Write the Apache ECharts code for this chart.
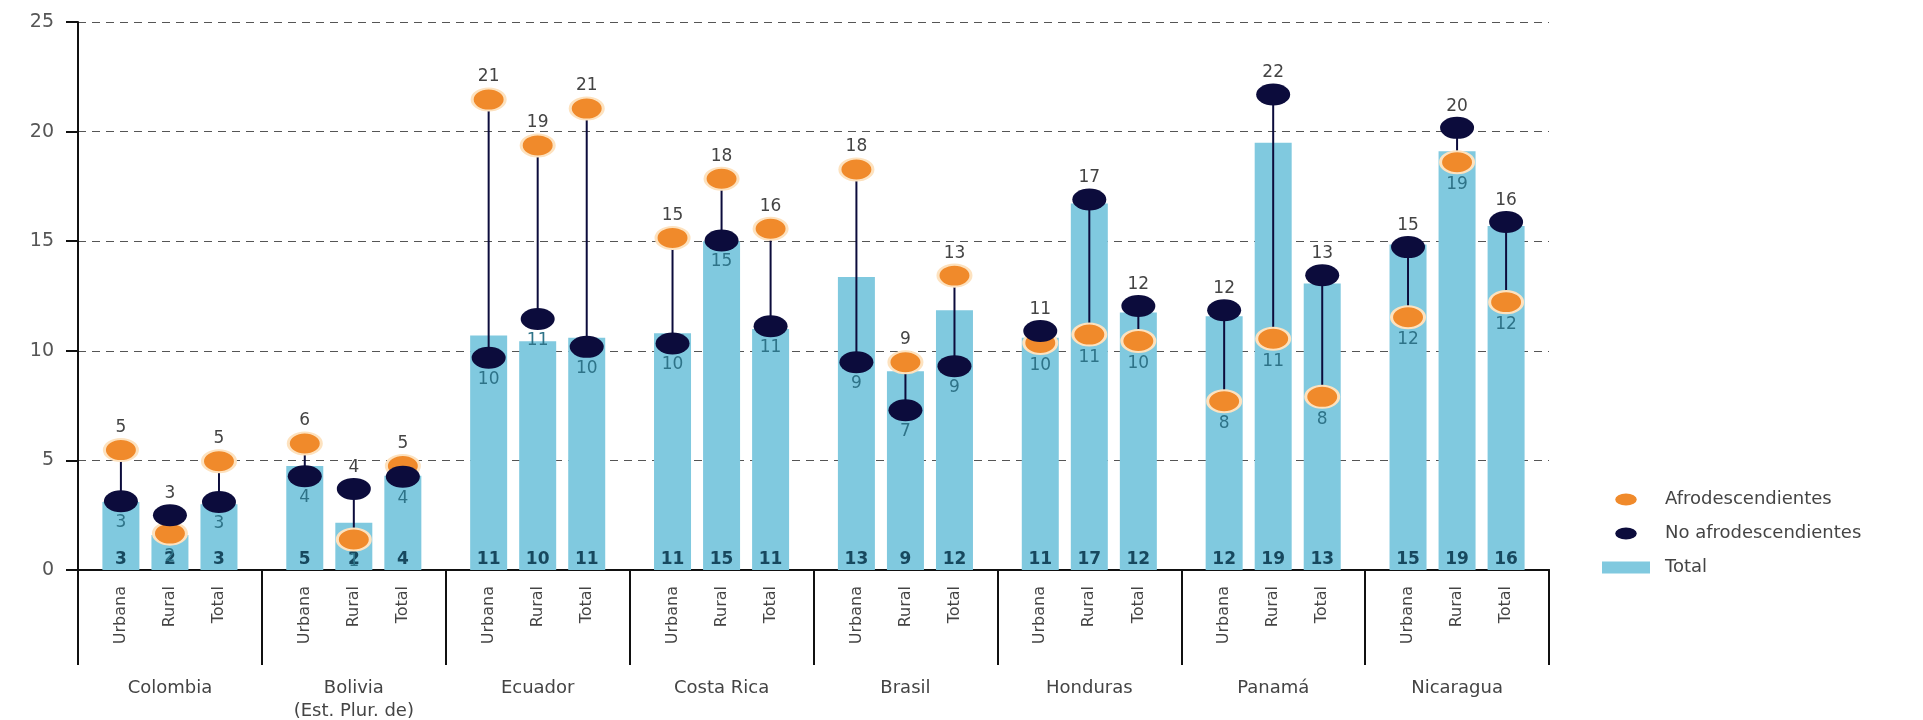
<!DOCTYPE html>
<html>
<head>
<meta charset="utf-8">
<script src="https://cdn.jsdelivr.net/npm/echarts@6/dist/echarts.min.js"></script>
<style>
html,body{margin:0;padding:0;background:#fff;}
#c{width:1923px;height:720px;}
</style>
</head>
<body>
<div id="c"></div>
<script>
// ---- data ----
const countries = ['Colombia', 'Bolivia\n(Est. Plur. de)', 'Ecuador', 'Costa Rica', 'Brasil', 'Honduras', 'Panamá', 'Nicaragua'];
const zones = ['Urbana', 'Rural', 'Total'];
// values per country, in the order Urbana, Rural, Total
const afro = [
  5.47, 1.66, 4.96,    // Colombia
  5.77, 1.39, 4.74,    // Bolivia
  21.46, 19.37, 21.05, // Ecuador
  15.15, 17.85, 15.57, // Costa Rica
  18.27, 9.48, 13.43,  // Brasil
  10.36, 10.74, 10.45, // Honduras
  7.7, 10.55, 7.9,     // Panamá
  11.53, 18.6, 12.22   // Nicaragua
];
const noAfro = [
  3.14, 2.5, 3.1,
  4.28, 3.7, 4.25,
  9.68, 11.45, 10.18,
  10.33, 15.03, 11.12,
  9.48, 7.29, 9.3,
  10.9, 16.9, 12.04,
  11.85, 21.69, 13.45,
  14.73, 20.17, 15.88
];
const total = [
  3.1, 1.6, 3.0,
  4.74, 2.15, 4.3,
  10.7, 10.44, 10.59,
  10.8, 15.0, 11.0,
  13.37, 9.07, 11.85,
  10.6, 16.72, 11.75,
  11.58, 19.49, 13.07,
  14.85, 19.1, 15.69
];
const yTicks = [0, 5, 10, 15, 20, 25];

// ---- layout helpers ----
const GROUP = 3.75, FIRST = 0.875;
function xPos(i) { const g = Math.floor(i / 3), j = i % 3; return FIRST + GROUP * g + j; }
const slotLabel = {};
total.forEach((v, i) => { slotLabel[Math.round(xPos(i) * 8)] = zones[i % 3]; });

const FONT = 'DejaVu Sans';
function dotLabel(val, other) {
  const top = val >= other;
  return {
    show: true,
    position: top ? 'top' : 'bottom',
    distance: 2,
    color: top ? '#444' : '#2e7388',
    fontSize: 17,
    fontFamily: FONT
  };
}
const ellipse = 'path://M0,5a9,5 0 1,0 18,0a9,5 0 1,0 -18,0';

const chart = echarts.init(document.getElementById('c'));
chart.setOption({
  animation: false,
  backgroundColor: '#fff',
  textStyle: { fontFamily: FONT },
  grid: { left: 78, right: 374, top: 22, bottom: 150, containLabel: false, outerBoundsMode: 'none' },
  legend: {
    orient: 'vertical',
    left: 1597,
    top: 484,
    itemWidth: 48,
    itemHeight: 12,
    itemGap: 13,
    textStyle: { fontSize: 18, color: '#444', fontFamily: FONT, lineHeight: 21, padding: [0, 0, 0, 10] },
    itemStyle: { borderWidth: 0 },
    data: [
      { name: 'Afrodescendientes', icon: ellipse },
      { name: 'No afrodescendientes', icon: ellipse },
      { name: 'Total', icon: 'rect' }
    ]
  },
  xAxis: [
    {
      type: 'value', min: 0, max: 30, interval: 0.125, position: 'bottom',
      axisLine: { show: true, onZero: false, lineStyle: { color: '#111', width: 2 } },
      axisTick: { show: false },
      splitLine: { show: false },
      axisLabel: {
        rotate: 90, margin: 16, fontSize: 16, color: '#444', fontFamily: FONT,
        formatter: v => slotLabel[Math.round(v * 8)] || ''
      }
    },
    {
      type: 'category', data: countries, position: 'bottom', boundaryGap: true,
      axisLine: { show: true, onZero: false, lineStyle: { color: '#111', width: 2 } },
      axisTick: { show: true, interval: 0, length: 95, lineStyle: { color: '#111', width: 2 } },
      axisLabel: { interval: 0, margin: 107, fontSize: 18, lineHeight: 23, color: '#444', fontFamily: FONT },
      splitLine: { show: false }
    }
  ],
  yAxis: {
    type: 'value', min: yTicks[0], max: yTicks[yTicks.length - 1], interval: yTicks[1] - yTicks[0],
    axisLine: { show: true, lineStyle: { color: '#111', width: 2 } },
    axisTick: { show: true, length: 12, lineStyle: { color: '#111', width: 2 } },
    axisLabel: { margin: 24, fontSize: 19, color: '#555', fontFamily: FONT },
    splitLine: { show: true, lineStyle: { type: [8, 6], color: '#555', width: 1.2 } }
  },
  series: [
    {
      name: 'Total', type: 'bar', xAxisIndex: 0, barWidth: 37, z: 1,
      itemStyle: { color: '#80c9df' },
      label: {
        show: true, position: 'insideBottom', distance: 2,
        color: '#17485e', fontWeight: 'bold', fontSize: 17, fontFamily: FONT,
        formatter: p => Math.round(p.value[1])
      },
      data: total.map((v, i) => [xPos(i), v])
    },
    {
      name: 'link', type: 'custom', xAxisIndex: 0, z: 2, silent: true,
      encode: { x: 0, y: [1, 2] },
      renderItem: function (params, api) {
        const x = api.value(0);
        const p1 = api.coord([x, api.value(1)]);
        const p2 = api.coord([x, api.value(2)]);
        return { type: 'line', shape: { x1: p1[0], y1: p1[1], x2: p2[0], y2: p2[1] }, style: { stroke: '#0c0c3c', lineWidth: 2 } };
      },
      data: afro.map((a, i) => [xPos(i), a, noAfro[i]])
    },
    {
      name: 'Afrodescendientes', type: 'scatter', xAxisIndex: 0, z: 3,
      symbol: 'circle', symbolSize: [33, 22],
      itemStyle: { color: '#f08a2b', borderColor: '#fde2bf', borderWidth: 2.5, opacity: 1 },
      label: { formatter: p => Math.round(p.value[1]) },
      data: afro.map((v, i) => ({ value: [xPos(i), v], label: dotLabel(v, noAfro[i]) }))
    },
    {
      name: 'No afrodescendientes', type: 'scatter', xAxisIndex: 0, z: 4,
      symbol: 'circle', symbolSize: [34, 22],
      itemStyle: { color: '#0c0c3c', opacity: 1 },
      label: { formatter: p => Math.round(p.value[1]) },
      data: noAfro.map((v, i) => ({ value: [xPos(i), v], label: dotLabel(v, afro[i]) }))
    }
  ]
});
</script>
</body>
</html>
